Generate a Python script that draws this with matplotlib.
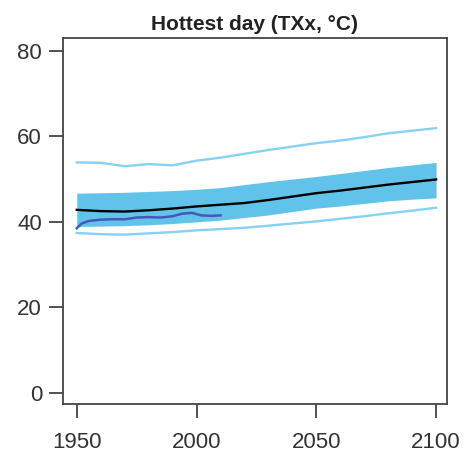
import numpy as np
import matplotlib
matplotlib.use("Agg")
import matplotlib.pyplot as plt

plt.rcParams['font.family'] = ['Liberation Sans', 'DejaVu Sans']

# model ensemble (decadal readings)
years = [1950, 1960, 1970, 1980, 1990, 2000, 2010, 2020,
         2030, 2040, 2050, 2060, 2070, 2080, 2090, 2100]
mean = [42.8, 42.5, 42.4, 42.7, 43.1, 43.6, 44.0, 44.4,
        45.1, 45.9, 46.7, 47.3, 48.0, 48.7, 49.3, 49.9]
band_hi = [46.7, 46.8, 46.9, 47.1, 47.3, 47.6, 48.0, 48.7,
           49.4, 50.0, 50.6, 51.3, 52.0, 52.7, 53.3, 53.9]
band_lo = [38.9, 39.0, 39.1, 39.3, 39.6, 40.0, 40.4, 41.0,
           41.6, 42.4, 43.2, 43.7, 44.3, 44.9, 45.3, 45.6]
upper = [53.9, 53.8, 53.0, 53.5, 53.2, 54.3, 55.0, 55.9,
         56.8, 57.6, 58.4, 59.0, 59.8, 60.7, 61.3, 61.9]
lower = [37.4, 37.1, 37.0, 37.3, 37.6, 38.0, 38.3, 38.6,
         39.1, 39.6, 40.1, 40.7, 41.3, 42.0, 42.6, 43.3]

# observations
obs_years = [1950, 1952, 1955, 1960, 1965, 1970, 1975, 1980,
             1985, 1990, 1994, 1998, 2002, 2006, 2010]
obs = [38.5, 39.6, 40.2, 40.5, 40.6, 40.6, 41.0, 41.1,
       41.0, 41.3, 41.9, 42.1, 41.5, 41.4, 41.5]

xticks = [1950, 2000, 2050, 2100]
yticks = [0, 20, 40, 60, 80]

fig = plt.figure(figsize=(4.66, 4.57), dpi=100)
ax = fig.add_axes([0.135, 0.116, 0.824, 0.801])

ax.fill_between(years, band_lo, band_hi, color='#62c3ea', lw=0)
ax.plot(years, upper, color='#86d2f2', lw=1.7)
ax.plot(years, lower, color='#86d2f2', lw=1.7)
ax.plot(years, mean, color='black', lw=1.7)
ax.plot(obs_years, obs, color='#4657b8', lw=1.8)

ax.set_xlim(1944.2, 2104.5)
ax.set_ylim(-2.6, 83)
ax.set_xticks(xticks)
ax.set_yticks(yticks)
ax.tick_params(direction='out', length=10, width=1.2, color='#333333',
               labelsize=16, labelcolor='#333333')
ax.tick_params(axis='x', pad=10)
ax.tick_params(axis='y', pad=5)
for s in ax.spines.values():
    s.set_linewidth(1.3)
    s.set_color('#444444')

ax.set_title('Hottest day (TXx, °C)', fontsize=15, fontweight='bold',
             color='#222222', pad=6)

fig.savefig('out.png', dpi=100)
